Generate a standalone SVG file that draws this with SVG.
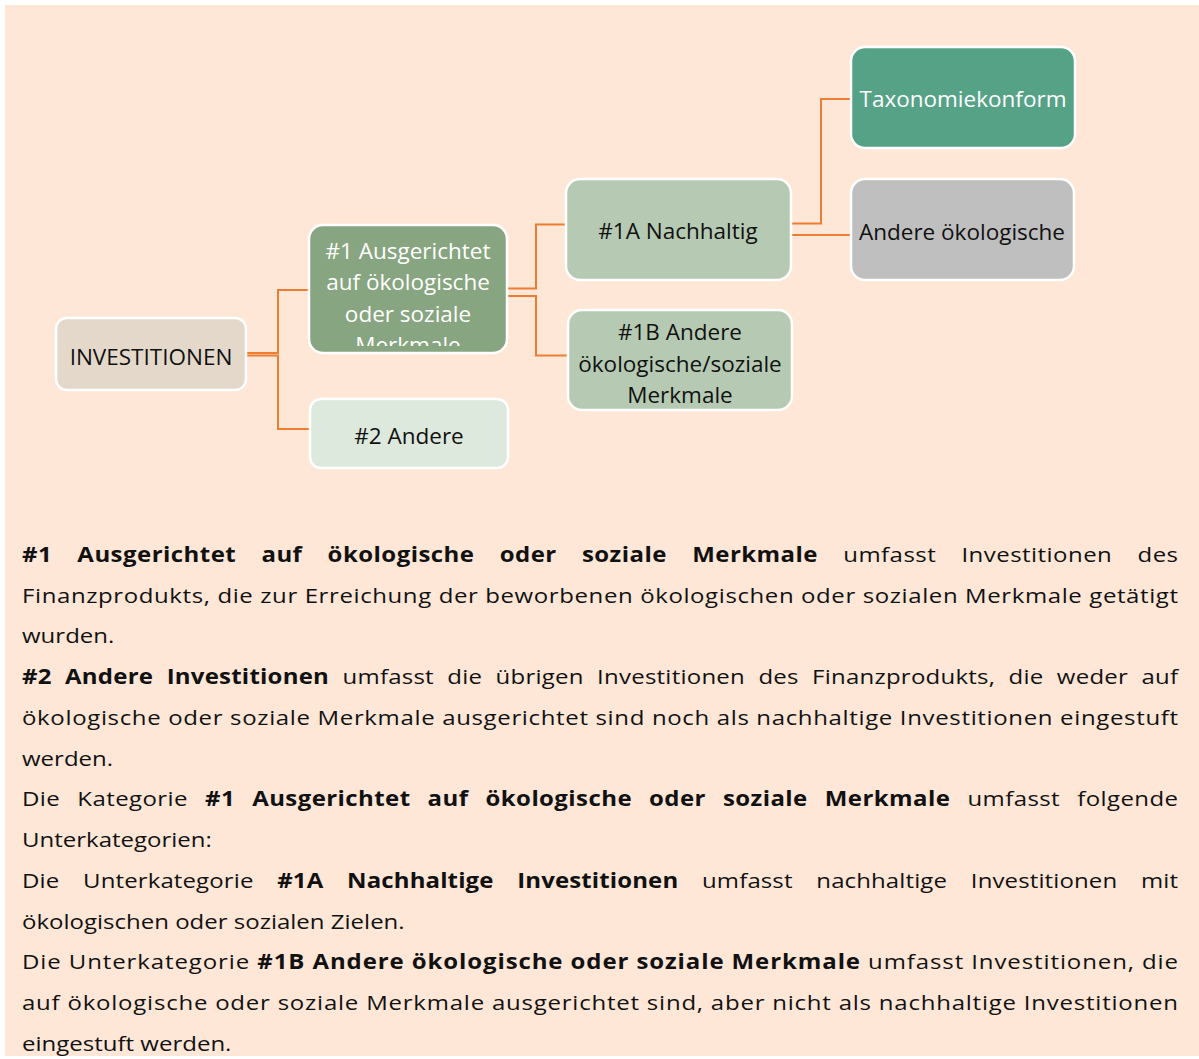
<svg xmlns="http://www.w3.org/2000/svg" width="1199" height="1059" viewBox="0 0 1199 1059">
<defs>
<style>
.bg{fill:#FEE7D7}
.box{stroke:#FFFFFF;stroke-width:2.5}
.nt{font-family:"Open Sans","Noto Sans","DejaVu Sans",sans-serif;font-size:22.5px;text-anchor:middle;fill:#111111}
.wt{fill:#FFFFFF}
.conn{fill:none;stroke:#ED7D31;stroke-width:2}
.body{font-family:"Open Sans","Noto Sans","DejaVu Sans",sans-serif;font-size:20.7px;fill:#111111}
.b{font-weight:700}
</style>
<clipPath id="clip1"><rect x="308" y="226" width="200" height="120"/></clipPath>
</defs>
<rect x="5" y="5" width="1194" height="1051" class="bg"/>
<g id="connectors">
<polyline class="conn" points="247,353 278,353 278,290 308,290"/>
<polyline class="conn" points="247,355.5 278,355.5 278,429 309,429"/>
<polyline class="conn" points="508,288.5 536,288.5 536,224.5 566,224.5"/>
<polyline class="conn" points="508,296 536,296 536,355.5 567,355.5"/>
<polyline class="conn" points="792,223.5 821,223.5 821,99 850,99"/>
<polyline class="conn" points="792,235 850,235"/>
</g>
<g id="node-investitionen">
<rect class="box" x="56" y="318" width="190" height="72" rx="11" fill="#E4D8CB"/>
<text class="nt" x="151" y="365" font-size="23">INVESTITIONEN</text>
</g>
<g id="node-1">
<rect class="box" x="309" y="225" width="198" height="128" rx="14" fill="#87A580"/>
<g clip-path="url(#clip1)">
<text class="nt wt" x="408" y="258.7">#1 Ausgerichtet</text>
<text class="nt wt" x="408" y="290.2">auf ökologische</text>
<text class="nt wt" x="408" y="321.7">oder soziale</text>
<text class="nt wt" x="408" y="353.2">Merkmale</text>
</g>
</g>
<g id="node-2">
<rect class="box" x="310" y="399" width="198" height="69" rx="11" fill="#DDE9DD"/>
<text class="nt" x="409" y="444">#2 Andere</text>
</g>
<g id="node-1a">
<rect class="box" x="566" y="179" width="225" height="101" rx="14" fill="#B6CAB3"/>
<text class="nt" x="678" y="239">#1A Nachhaltig</text>
</g>
<g id="node-1b">
<rect class="box" x="568" y="310" width="224" height="100" rx="14" fill="#B6CAB3"/>
<text class="nt" x="680" y="340">#1B Andere</text>
<text class="nt" x="680" y="371.5">ökologische/soziale</text>
<text class="nt" x="680" y="403">Merkmale</text>
</g>
<g id="node-taxonomie">
<rect class="box" x="851" y="47" width="224" height="101" rx="14" fill="#56A287"/>
<text class="nt wt" x="963" y="107" font-size="21">Taxonomiekonform</text>
</g>
<g id="node-andere-oeko">
<rect class="box" x="851" y="179" width="223" height="101" rx="14" fill="#BFBFBF"/>
<text class="nt" x="962" y="240">Andere ökologische</text>
</g>
<g id="body-text" transform="translate(22,0) scale(1.16,1)">
<text class="body" x="0" y="562" textLength="996.6" lengthAdjust="spacing" word-spacing="16"><tspan class="b">#1 Ausgerichtet auf ökologische oder soziale Merkmale</tspan> umfasst Investitionen des</text>
<text class="body" x="0" y="602.75" textLength="996.6" lengthAdjust="spacing">Finanzprodukts, die zur Erreichung der beworbenen ökologischen oder sozialen Merkmale getätigt</text>
<text class="body" x="0" y="643.5">wurden.</text>
<text class="body" x="0" y="684.25" textLength="996.6" lengthAdjust="spacing" word-spacing="6"><tspan class="b">#2 Andere Investitionen</tspan> umfasst die übrigen Investitionen des Finanzprodukts, die weder auf</text>
<text class="body" x="0" y="725" textLength="996.6" lengthAdjust="spacing">ökologische oder soziale Merkmale ausgerichtet sind noch als nachhaltige Investitionen eingestuft</text>
<text class="body" x="0" y="765.75">werden.</text>
<text class="body" x="0" y="806.5" textLength="996.6" lengthAdjust="spacing" word-spacing="9">Die Kategorie <tspan class="b">#1 Ausgerichtet auf ökologische oder soziale Merkmale</tspan> umfasst folgende</text>
<text class="body" x="0" y="847.25">Unterkategorien:</text>
<text class="body" x="0" y="888" textLength="996.6" lengthAdjust="spacing" word-spacing="15">Die Unterkategorie <tspan class="b">#1A Nachhaltige Investitionen</tspan> umfasst nachhaltige Investitionen mit</text>
<text class="body" x="0" y="928.75">ökologischen oder sozialen Zielen.</text>
<text class="body" x="0" y="969.5" textLength="996.6" lengthAdjust="spacing">Die Unterkategorie <tspan class="b">#1B Andere ökologische oder soziale Merkmale</tspan> umfasst Investitionen, die</text>
<text class="body" x="0" y="1010.25" textLength="996.6" lengthAdjust="spacing">auf ökologische oder soziale Merkmale ausgerichtet sind, aber nicht als nachhaltige Investitionen</text>
<text class="body" x="0" y="1051">eingestuft werden.</text>
</g>
</svg>
